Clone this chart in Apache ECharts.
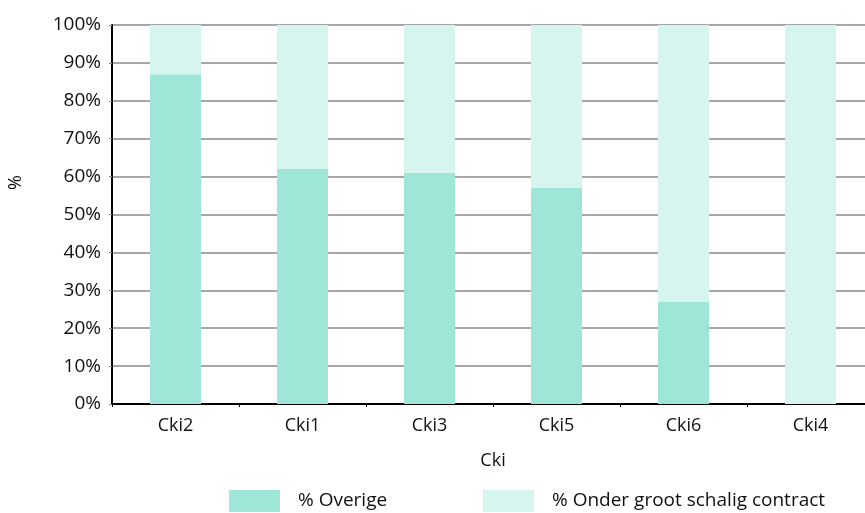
<!DOCTYPE html>
<html>
<head>
<meta charset="utf-8">
<script src="https://cdn.jsdelivr.net/npm/echarts@6/dist/echarts.min.js"></script>
<style>
  html, body { margin: 0; padding: 0; background: #fff; }
  #chart { width: 865px; height: 513px; }
</style>
</head>
<body>
<div id="chart"></div>
<script>
const categories = ["Cki2", "Cki1", "Cki3", "Cki5", "Cki6", "Cki4"];
const overige = [87, 62, 61, 57, 27, 0];
const onderContract = [13, 38, 39, 43, 73, 100];

const chart = echarts.init(document.getElementById("chart"));
const font = "Open Sans";
const legendText = { fontSize: 19, color: "#111", fontFamily: font, padding: [0, 0, 0, 13] };

const option = {
  animation: false,
  textStyle: { fontFamily: font },
  grid: { left: 112, width: 762, top: 25, height: 379, outerBoundsMode: "none" },
  legend: [
    {
      top: 490,
      left: 229,
      padding: 0,
      itemWidth: 51,
      itemHeight: 22,
      icon: "rect",
      textStyle: legendText,
      data: ["% Overige"]
    },
    {
      top: 490,
      left: 483,
      padding: 0,
      itemWidth: 51,
      itemHeight: 22,
      icon: "rect",
      textStyle: legendText,
      data: ["% Onder groot schalig contract"]
    }
  ],
  xAxis: {
    type: "category",
    data: categories,
    name: "Cki",
    nameLocation: "middle",
    nameGap: 48,
    nameTextStyle: { fontSize: 18, color: "#111" },
    axisLine: { lineStyle: { color: "#000", width: 2 } },
    axisTick: { show: true, length: 3, lineStyle: { color: "#000" } },
    axisLabel: { fontSize: 18, color: "#111", margin: 13 }
  },
  yAxis: {
    type: "value",
    min: 0,
    max: 100,
    interval: 10,
    name: "%",
    nameLocation: "middle",
    nameGap: 87,
    nameTextStyle: { fontSize: 18, color: "#111", padding: [0, 0, 0, 64] },
    axisLine: { show: true, lineStyle: { color: "#000", width: 2 } },
    axisTick: { show: true, length: 3, lineStyle: { color: "#888" } },
    axisLabel: { fontSize: 19, color: "#111", formatter: "{value}%", margin: 11 },
    splitLine: { lineStyle: { color: "#8a8a8a", width: 1.5 } }
  },
  series: [
    {
      name: "% Overige",
      type: "bar",
      stack: "total",
      barWidth: 51,
      itemStyle: { color: "#9ee7d8" },
      data: overige
    },
    {
      name: "% Onder groot schalig contract",
      type: "bar",
      stack: "total",
      barWidth: 51,
      itemStyle: { color: "#d5f5ee" },
      data: onderContract
    }
  ]
};

chart.setOption(option);
</script>
</body>
</html>
